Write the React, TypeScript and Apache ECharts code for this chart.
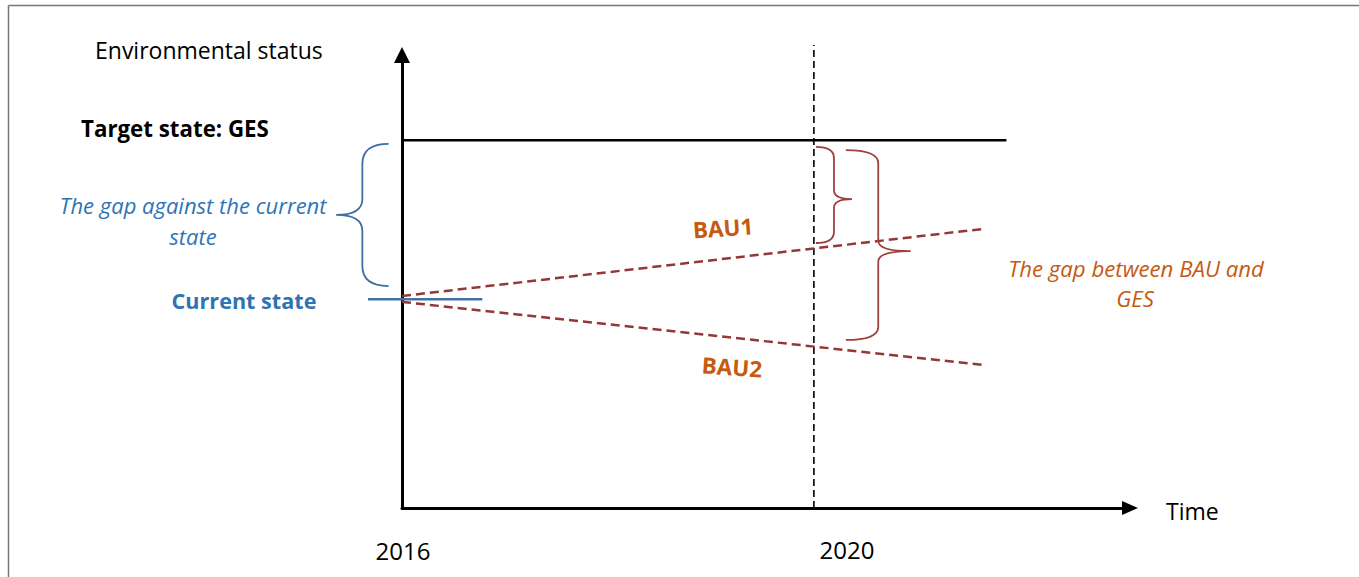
import React, { useEffect, useRef } from "react";
import * as echarts from "echarts";

// ---- data (years on x, environmental status index on y) ----
const tickLabels = ["2016", "2020"];
const gesX = [2016, 2021.87];
const gesY = [81.2, 81.2];
const currentX = [2015.67, 2016.78];
const currentY = [46.1, 46.1];
const bau1X = [2016, 2021.64];
const bau1Y = [46.8, 61.6];
const bau2X = [2016, 2021.64];
const bau2Y = [45.5, 31.6];
const markerX = [2020, 2020];
const markerY = [0, 102.2];

// braces: tip x, ends x, top y, bottom y, tip y
const blueBraceTipX = [2015.36];
const blueBraceEndX = [2015.87];
const blueBraceTop = [80.4];
const blueBraceBottom = [49.0];
const blueBraceTipY = [64.7];

const redBraceTipX = [2020.37, 2020.94];
const redBraceEndX = [2020.02, 2020.31];
const redBraceTop = [79.7, 79.0];
const redBraceBottom = [58.5, 37.1];
const redBraceTipY = [68.2, 56.7];

const zip = (xs: number[], ys: number[]) => xs.map((x, i) => [x, ys[i]]);

const FONT = "'Open Sans', Lato, sans-serif";

function braceRender(radii: number[]) {
  return (params: any, api: any) => {
    const tipX = api.value(0);
    const endX = api.value(1);
    const top = api.value(2);
    const bottom = api.value(3);
    const tipY = api.value(4);
    const e1 = api.coord([endX, top]);
    const e2 = api.coord([endX, bottom]);
    const t = api.coord([tipX, tipY]);
    const xs = (e1[0] + t[0]) / 2;
    const r = radii[params.dataIndex] ?? 14;
    const r2 = r * 0.8;
    const d =
      `M${e1[0]},${e1[1]} Q${xs},${e1[1]} ${xs},${e1[1] + r} ` +
      `L${xs},${t[1] - r2} Q${xs},${t[1]} ${t[0]},${t[1]} ` +
      `Q${xs},${t[1]} ${xs},${t[1] + r2} ` +
      `L${xs},${e2[1] - r} Q${xs},${e2[1]} ${e2[0]},${e2[1]}`;
    return {
      type: "path",
      shape: { pathData: d },
      style: { fill: "none", stroke: api.visual("color"), lineWidth: 1.8 },
    };
  };
}

// straight segment drawn through the axes (not clipped to the grid)
function segmentSeries(xs: number[], ys: number[], color: string, width: number, dash?: number[]) {
  return {
    type: "custom",
    clip: false,
    data: [[xs[0], ys[0], xs[1], ys[1]]],
    renderItem: (_p: any, api: any) => {
      const a = api.coord([api.value(0), api.value(1)]);
      const b = api.coord([api.value(2), api.value(3)]);
      return {
        type: "line",
        shape: { x1: a[0], y1: a[1], x2: b[0], y2: b[1] },
        style: { stroke: color, lineWidth: width, lineDash: dash || null },
      };
    },
  };
}

export default function App() {
  const ref = useRef<HTMLDivElement>(null);
  useEffect(() => {
    if (!ref.current) return;
    const chart = echarts.init(ref.current, undefined, { renderer: "svg" });
    const txt = (text: string, x: number, y: number, opts: any = {}) => ({
      type: "text",
      x,
      y,
      rotation: opts.rotation || 0,
      style: {
        text,
        fill: opts.fill || "#000",
        fontFamily: FONT,
        fontSize: opts.fontSize || 23,
        fontWeight: opts.fontWeight || "normal",
        fontStyle: opts.fontStyle || "normal",
        align: opts.align || "left",
        verticalAlign: "middle",
      },
    });
    const option: any = {
      animation: false,
      backgroundColor: "#fff",
      grid: { left: 402, right: 229, top: 55, bottom: 69 },
      xAxis: {
        type: "value",
        min: 2016,
        max: 2023.07,
        axisLine: {
          show: true,
          onZero: false,
          symbol: ["none", "triangle"],
          symbolSize: [14, 16],
          lineStyle: { color: "#000", width: 3 },
        },
        axisTick: { show: false },
        axisLabel: { show: false },
        splitLine: { show: false },
      },
      yAxis: {
        type: "value",
        min: 0,
        max: 100,
        axisLine: {
          show: true,
          onZero: false,
          symbol: ["none", "triangle"],
          symbolSize: [16, 16],
          lineStyle: { color: "#000", width: 3 },
        },
        axisTick: { show: false },
        axisLabel: { show: false },
        splitLine: { show: false },
      },
      series: [
        segmentSeries(markerX, markerY, "#000", 1.6, [7, 4]),
        segmentSeries(gesX, gesY, "#000", 2.5),
        segmentSeries(currentX, currentY, "#4371a6", 2.5),
        segmentSeries(bau1X, bau1Y, "#953735", 2.5, [9, 5]),
        segmentSeries(bau2X, bau2Y, "#953735", 2.5, [9, 5]),
        {
          type: "custom",
          clip: false,
          renderItem: braceRender([20]),
          itemStyle: { color: "#3f6ea3" },
          data: blueBraceTipX.map((x, i) => [
            x,
            blueBraceEndX[i],
            blueBraceTop[i],
            blueBraceBottom[i],
            blueBraceTipY[i],
          ]),
        },
        {
          type: "custom",
          clip: false,
          renderItem: braceRender([11, 13]),
          itemStyle: { color: "#a0403e" },
          data: redBraceTipX.map((x, i) => [
            x,
            redBraceEndX[i],
            redBraceTop[i],
            redBraceBottom[i],
            redBraceTipY[i],
          ]),
        },
      ],
      graphic: [
        {
          type: "line",
          shape: { x1: 8.5, y1: 5.5, x2: 1359, y2: 5.5 },
          style: { stroke: "#777", lineWidth: 1.5 },
        },
        {
          type: "line",
          shape: { x1: 8.5, y1: 5.5, x2: 8.5, y2: 577 },
          style: { stroke: "#777", lineWidth: 1.5 },
        },
        txt("Environmental status", 95, 50, { fontSize: 23 }),
        txt("Target state: GES", 81, 128, { fontWeight: "bold", fontSize: 22.3 }),
        txt("The gap against the current", 193, 205, {
          align: "center",
          fontStyle: "italic",
          fill: "#2e74b5",
          fontSize: 22,
        }),
        txt("state", 193, 236, {
          align: "center",
          fontStyle: "italic",
          fill: "#2e74b5",
          fontSize: 22,
        }),
        txt("Current state", 244, 300, {
          align: "center",
          fontWeight: "bold",
          fill: "#2e74b5",
          fontSize: 21.6,
        }),
        txt("BAU1", 723, 228, {
          align: "center",
          fontWeight: "bold",
          fill: "#c55a11",
          rotation: 0.07,
          fontSize: 22.5,
        }),
        txt("BAU2", 732, 367, {
          align: "center",
          fontWeight: "bold",
          fill: "#c55a11",
          rotation: -0.07,
          fontSize: 22.5,
        }),
        txt("The gap between BAU and", 1136, 268, {
          align: "center",
          fontStyle: "italic",
          fill: "#c55a11",
          fontSize: 22.2,
        }),
        txt("GES", 1135, 298, {
          align: "center",
          fontStyle: "italic",
          fill: "#c55a11",
          fontSize: 22.2,
        }),
        txt("Time", 1166, 511, { fontSize: 23 }),
        txt(tickLabels[0], 403, 550, { align: "center", fontSize: 24 }),
        txt(tickLabels[1], 847, 549, { align: "center", fontSize: 24 }),
      ],
    };
    chart.setOption(option);
    return () => chart.dispose();
  }, []);
  return (
    <div
      ref={ref}
      style={{ position: "fixed", left: 0, top: 0, width: 1359, height: 577 }}
    />
  );
}
